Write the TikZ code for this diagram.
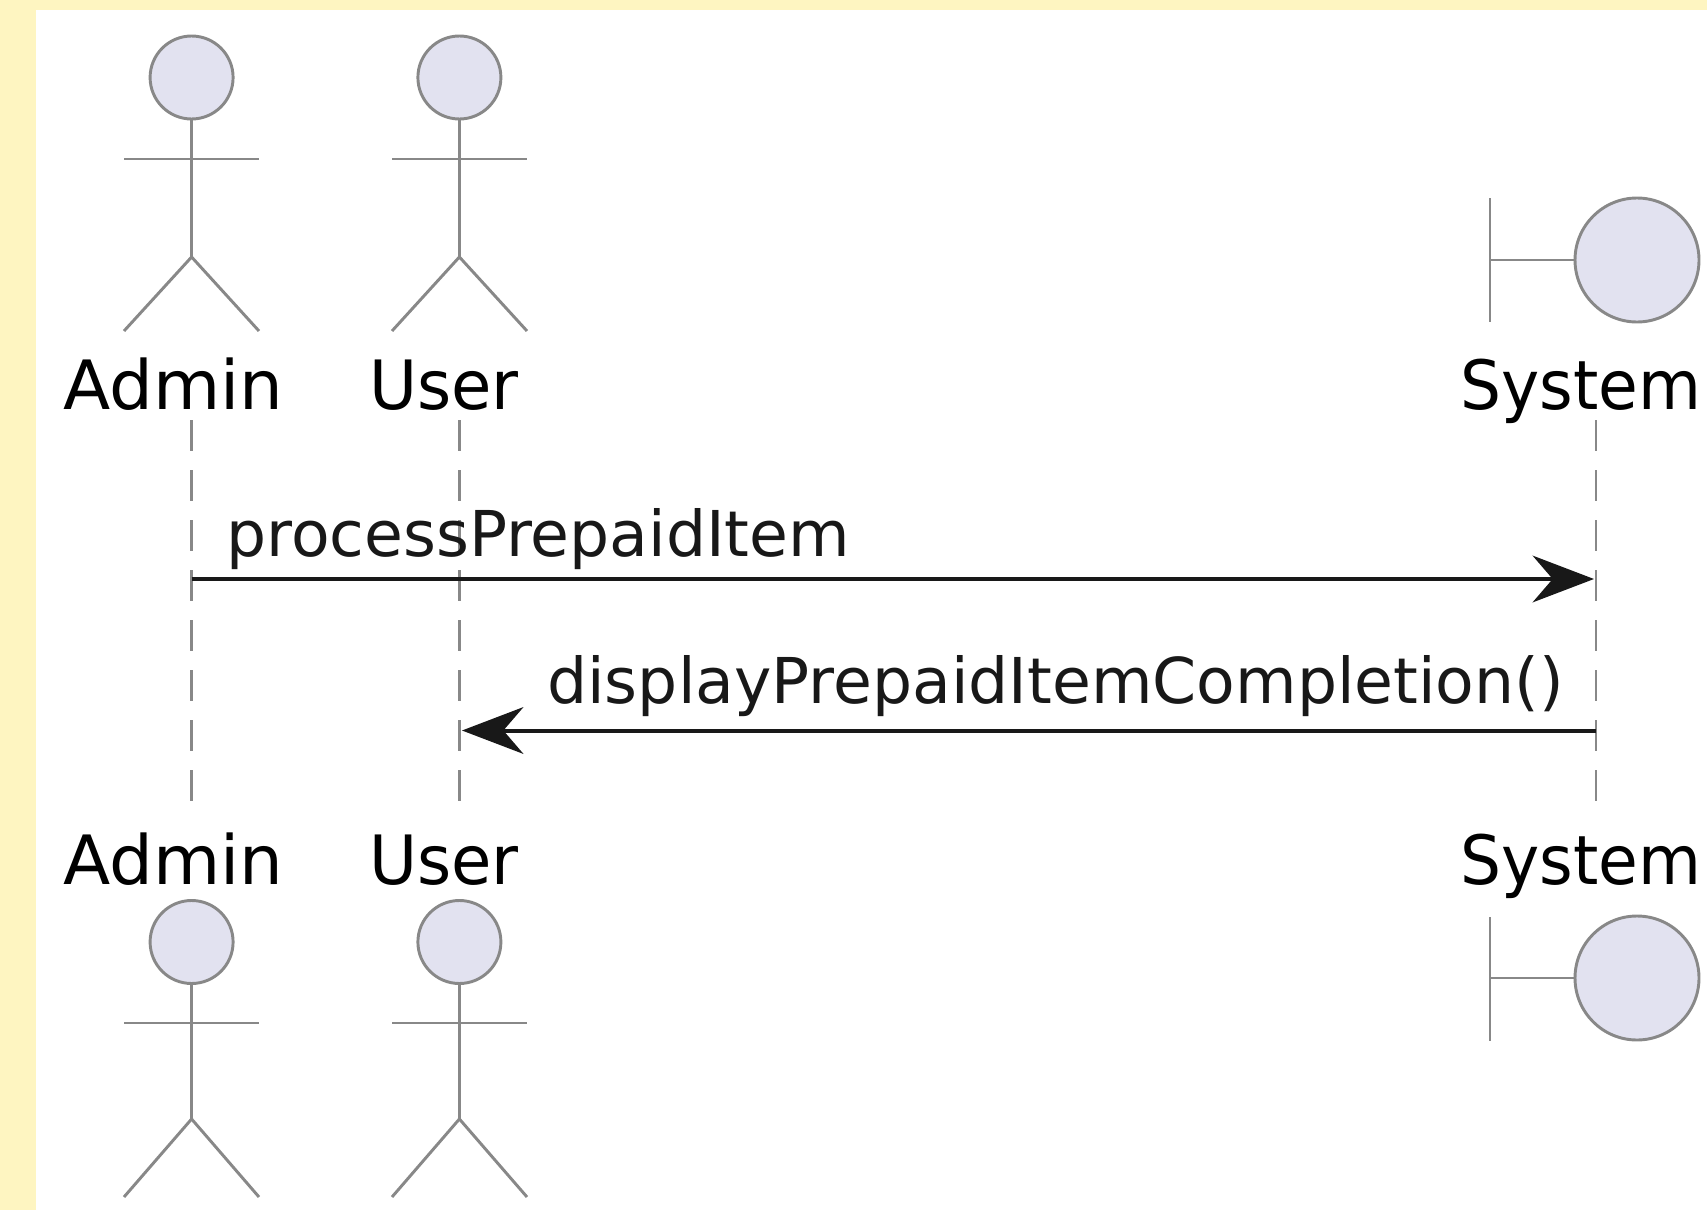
\documentclass[tikz,border=0pt]{standalone}
\usepackage{fontspec}
\setmainfont{DejaVu Sans}
\usetikzlibrary{arrows.meta}
\definecolor{pagebg}{HTML}{FEF5C1}
\definecolor{figfill}{HTML}{E2E2F0}
\definecolor{figline}{HTML}{888888}
\definecolor{msgline}{HTML}{181818}
\tikzset{
  figstroke/.style={draw=figline, line width=2.2pt},
  fighead/.style={figstroke, fill=figfill},
  lifeline/.style={draw=figline, line width=1.8pt, dash pattern=on 23pt off 14.5pt},
  msgarrow/.style={draw=msgline, line width=3pt, -{Stealth[length=46pt,width=35pt,inset=15pt]}},
  actorlabel/.style={anchor=base west, inner sep=0pt, text=black, font=\fontsize{51}{60}\selectfont},
  msglabel/.style={anchor=base west, inner sep=0pt, text=msgline, font=\fontsize{47.4}{56}\selectfont}
}
\begin{document}
\begin{tikzpicture}[x=0.75pt,y=0.75pt,yscale=-1,xscale=1]
\useasboundingbox (0,0) rectangle (1707,1210);

%page
\fill[pagebg] (0,0) rectangle (1707,1210);
\fill[white] (36,10) rectangle (1707,1210);

%lifeline ends
\coordinate (adminTop) at (191.6,420);
\coordinate (adminBot) at (191.6,804);
\coordinate (userTop) at (459.4,420);
\coordinate (userBot) at (459.4,804);
\coordinate (systemTop) at (1596,420);
\coordinate (systemBot) at (1596,804);

%Lifelines
\draw[lifeline] (adminTop) -- (adminBot);
\draw[lifeline] (userTop) -- (userBot);
\draw[lifeline] (systemTop) -- (systemBot);

%Messages
\coordinate (adminMsg) at (191.6,579);
\coordinate (systemIn) at (1594,579);
\coordinate (systemOut) at (1596,730.5);
\coordinate (userMsg) at (462,730.5);
\draw[msgarrow] (adminMsg) -- (systemIn);
\draw[msgarrow] (systemOut) -- (userMsg);
\node[msglabel] (processLabel) at (226,556) {processPrepaidItem};
\node[msglabel] (displayLabel) at (547,703) {displayPrepaidItemCompletion()};

%Admin top
\draw[figstroke] (191.6,119) -- (191.6,257);
\draw[figstroke] (124,159) -- (259,159);
\draw[figstroke] (124,331) -- (191.6,257) -- (259,331);
\draw[fighead] (191.6,77.5) circle (41.5);
\node[actorlabel] (adminTopLabel) at (63,409) {\scalebox{1.015}[1]{Admin}};

%User top
\draw[figstroke] (459.4,119) -- (459.4,257);
\draw[figstroke] (392,159) -- (527,159);
\draw[figstroke] (392,331) -- (459.4,257) -- (527,331);
\draw[fighead] (459.4,77.5) circle (41.5);
\node[actorlabel] (userTopLabel) at (369,409) {\scalebox{0.965}[1]{User}};

%System top
\draw[figstroke] (1490,198) -- (1490,322);
\draw[figstroke] (1490,260) -- (1575,260);
\draw[fighead] (1637,260) circle (62);
\node[actorlabel] (systemTopLabel) at (1460,409) {\scalebox{0.95}[1]{System}};

%Admin bottom
\node[actorlabel] (adminBotLabel) at (63,884) {\scalebox{1.015}[1]{Admin}};
\draw[figstroke] (191.6,983) -- (191.6,1119);
\draw[figstroke] (124,1023) -- (259,1023);
\draw[figstroke] (124,1197) -- (191.6,1119) -- (259,1197);
\draw[fighead] (191.6,942) circle (41.5);

%User bottom
\node[actorlabel] (userBotLabel) at (369,884) {\scalebox{0.965}[1]{User}};
\draw[figstroke] (459.4,983) -- (459.4,1119);
\draw[figstroke] (392,1023) -- (527,1023);
\draw[figstroke] (392,1197) -- (459.4,1119) -- (527,1197);
\draw[fighead] (459.4,942) circle (41.5);

%System bottom
\node[actorlabel] (systemBotLabel) at (1460,884) {\scalebox{0.95}[1]{System}};
\draw[figstroke] (1490,917) -- (1490,1041);
\draw[figstroke] (1490,978) -- (1575,978);
\draw[fighead] (1637,978) circle (62);

\end{tikzpicture}
\end{document}
